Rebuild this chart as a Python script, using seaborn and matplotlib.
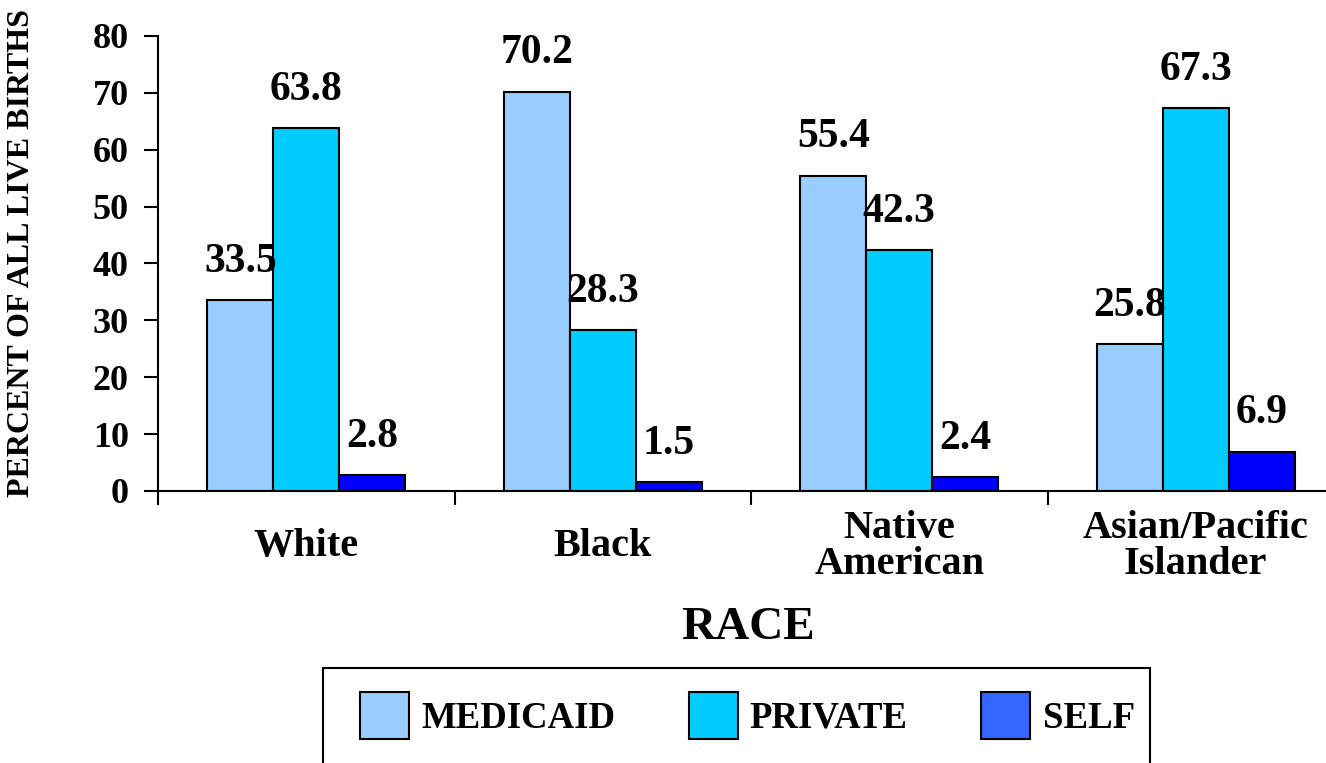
import matplotlib
matplotlib.use("Agg")
import matplotlib.pyplot as plt
from matplotlib.patches import Patch, Rectangle
import seaborn as sns
import pandas as pd

races = ["White", "Black", "Native\nAmerican", "Asian/Pacific\nIslander"]
payers = ["MEDICAID", "PRIVATE", "SELF"]
medicaid = [33.5, 70.2, 55.4, 25.8]
private = [63.8, 28.3, 42.3, 67.3]
self_pay = [2.8, 1.5, 2.4, 6.9]

bar_colors = ["#99CCFF", "#00CCFF", "#0000FF"]
legend_colors = ["#99CCFF", "#00CCFF", "#3366FF"]

df = pd.DataFrame({
    "race": races * 3,
    "payer": [p for p in payers for _ in races],
    "pct": medicaid + private + self_pay,
})

sns.set_style("white")
plt.rcParams["font.family"] = ["Liberation Serif", "DejaVu Serif"]
plt.rcParams["font.weight"] = "bold"
for key in ["text.color", "axes.labelcolor", "xtick.color", "ytick.color"]:
    plt.rcParams[key] = "black"

W, H = 1326, 763
fig = plt.figure(figsize=(W / 100, H / 100), dpi=100)
ax = fig.add_axes([158 / W, 1 - 491 / H, 1186 / W, 455 / H])

sns.barplot(data=df, x="race", y="pct", hue="payer", order=races,
            hue_order=payers, palette=bar_colors, width=0.667,
            edgecolor="black", linewidth=1.5, ax=ax, legend=False,
            saturation=1)

for cont in ax.containers:
    ax.bar_label(cont, labels=[f"{v:.1f}" for v in cont.datavalues],
                 padding=14, fontsize=30, fontweight="bold")

ax.set_xlim(-0.5, 3.5)
ax.set_ylim(0, 80)
ax.set_yticks(range(0, 81, 10))
ax.tick_params(axis="y", direction="out", length=10, width=1.5,
               labelsize=26, pad=11, left=True)
for t in ax.get_yticklabels():
    t.set_fontweight("bold")

ax.set_xticks(range(4))
ax.set_xticklabels(races, fontsize=29, fontweight="bold", linespacing=0.95)
ax.tick_params(axis="x", length=0, pad=40)
for t in ax.get_xticklabels():
    t.set_verticalalignment("center")
ax.set_xticks([-0.5, 0.5, 1.5, 2.5, 3.5], minor=True)
ax.tick_params(axis="x", which="minor", direction="out", length=10,
               width=1.5, bottom=True)

for side in ["top", "right"]:
    ax.spines[side].set_visible(False)
for side in ["left", "bottom"]:
    ax.spines[side].set_color("black")
    ax.spines[side].set_linewidth(1.5)

ax.set_xlabel("RACE", fontsize=34, fontweight="bold")
ax.xaxis.set_label_coords((748 - 158) / 1186, -137 / 455)
ax.xaxis.label.set_verticalalignment("center")
ax.set_ylabel("PERCENT OF ALL LIVE BIRTHS", fontsize=23, fontweight="bold")
ax.yaxis.set_label_coords((22 - 158) / 1186, (491 - 253) / 455)
ax.yaxis.label.set_verticalalignment("center")

# legend frame drawn as a figure-level box running off the bottom edge
fig.patches.append(Rectangle((323 / W, -10 / H), (1150 - 323) / W,
                             (763 - 668 + 10) / H, transform=fig.transFigure,
                             facecolor="white", edgecolor="black",
                             linewidth=1.5, zorder=0))

handles = [Patch(facecolor=c, edgecolor="black", linewidth=1.5)
           for c in legend_colors]
fig.legend(handles, payers, loc="upper left",
           bbox_to_anchor=(360 / W, 1 - 692 / H), ncol=3, frameon=False,
           prop={"family": "Liberation Serif", "weight": "bold", "size": 26.5},
           handlelength=1.33, handleheight=1.6, handletextpad=0.33,
           columnspacing=2.0, borderpad=0, borderaxespad=0)

fig.savefig("out.png", dpi=100)
